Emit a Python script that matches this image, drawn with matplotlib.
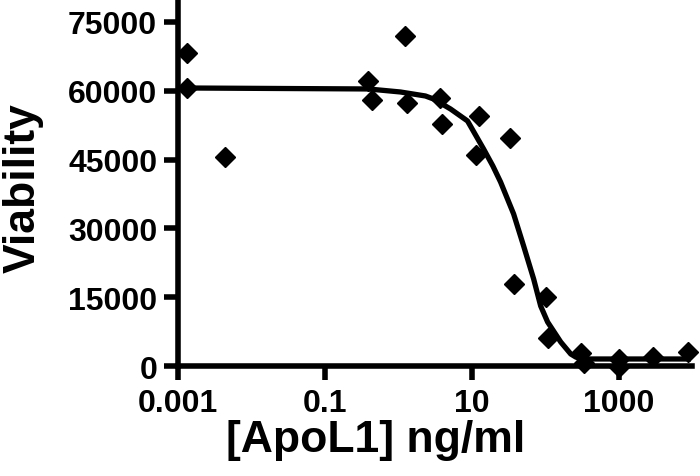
import matplotlib
matplotlib.use("Agg")
import matplotlib.pyplot as plt

# measured viability readings (diamonds)
dose_ng_ml = [0.00133, 0.00133, 0.00438, 0.391, 0.443, 1.25, 1.33, 3.69, 3.98,
              12.4, 11.3, 32.8, 37.2, 101.6, 108, 305, 335, 1000, 1000, 2940, 8700]
viability = [68230, 60600, 45560, 62130, 57990, 71940, 57330, 58420, 52760,
             54500, 46000, 49700, 17880, 15040, 6100, 2830, 650, 1530, -300, 1960, 3050]

# fitted dose-response curve
fit_dose = [0.00133, 0.391, 1.07, 2.34, 3.01, 5.14, 8.77, 14.5, 19.4, 24.7, 37.2,
            50.9, 69.7, 86.9, 108, 163, 223, 261, 305, 9660]
fit_viability = [60600, 60390, 59730, 58860, 58210, 56030, 53410, 47310, 43600, 40110, 33140,
                 26160, 18970, 13080, 9590, 5230, 2620, 1960, 1530, 1530]

x_ticks = [0.001, 0.1, 10, 1000]
x_tick_labels = ["0.001", "0.1", "10", "1000"]
y_ticks = [0, 15000, 30000, 45000, 60000, 75000]

plt.rcParams["font.family"] = ["Liberation Sans", "DejaVu Sans"]
plt.rcParams["font.weight"] = "bold"

fig = plt.figure(figsize=(7.0, 4.77), dpi=100)
ax = fig.add_axes([0.2543, 0.2306, 0.7343, 0.7694])

ax.plot(fit_dose, fit_viability, color="black", lw=3.8, solid_capstyle="butt",
        solid_joinstyle="round", zorder=3)
ax.plot(dose_ng_ml, viability, linestyle="none", marker="D", markersize=10,
        color="black", clip_on=False, zorder=4)

ax.set_xscale("log")
ax.set_xlim(1e-3, 1e4)
ax.set_ylim(0, 80000)
ax.set_xticks(x_ticks)
ax.set_xticklabels(x_tick_labels)
ax.set_yticks(y_ticks)
ax.set_yticklabels([str(v) for v in y_ticks])
ax.minorticks_off()

for side in ["top", "right"]:
    ax.spines[side].set_visible(False)
for side in ["left", "bottom"]:
    ax.spines[side].set_linewidth(4)
    ax.spines[side].set_capstyle("projecting")

ax.tick_params(axis="both", direction="out", length=10, width=4, labelsize=23)
ax.tick_params(axis="x", pad=6)
ax.tick_params(axis="y", pad=5)
for label in ax.get_xticklabels() + ax.get_yticklabels():
    label.set_fontweight("bold")

ax.set_xlabel("[ApoL1] ng/ml", fontsize=32, fontweight="bold")
ax.set_ylabel("Viability", fontsize=32, fontweight="bold")
ax.xaxis.set_label_coords(0.385, -0.145)
ax.yaxis.set_label_coords(-0.262, 0.488)

fig.savefig("out.png", dpi=100)
